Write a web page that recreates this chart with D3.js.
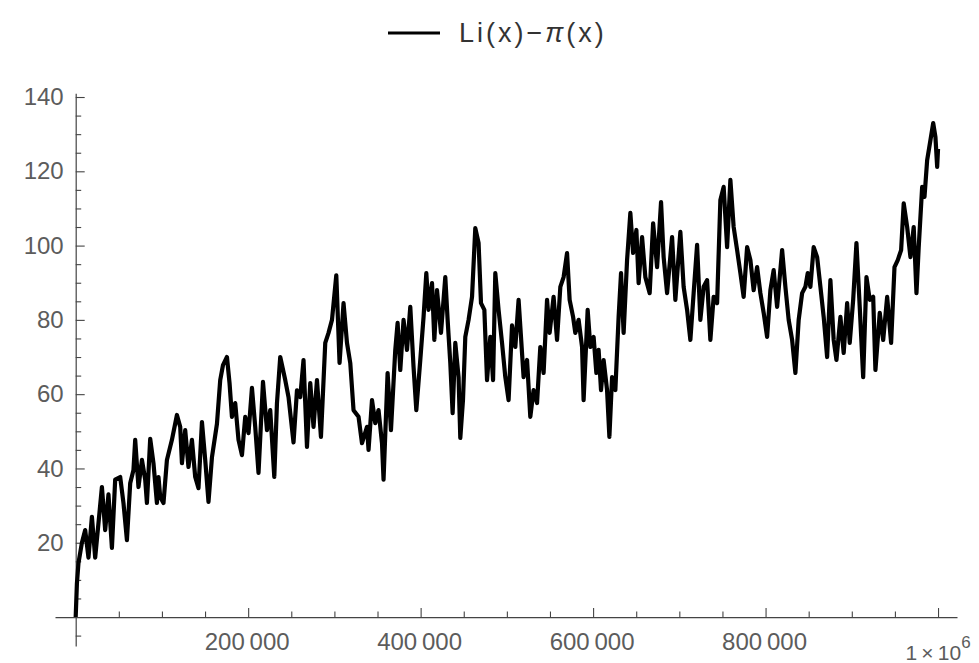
<!DOCTYPE html>
<html>
<head>
<meta charset="utf-8">
<script src="https://cdn.jsdelivr.net/npm/d3@7"></script>
<style>
  html, body { margin: 0; padding: 0; background: #fff; }
  svg { display: block; }
</style>
</head>
<body>
<svg id="chart" width="979" height="663"></svg>
<script>
// Li(x) - pi(x), sampled along x (x given in thousands)
const xK = [
  0, 1.4, 3.2, 7.2, 11.0, 14.8, 18.8, 22.6, 30.4, 34.2, 38.0, 42.0, 45.8, 51.6, 55.4, 59.4,
  63.2, 67.0, 69.0, 72.8, 76.8, 80.6, 82.6, 86.4, 90.2, 94.2, 96.0, 98.0, 101.8, 105.8, 111.6, 117.4,
  121.2, 123.2, 127.0, 130.8, 134.8, 138.6, 142.4, 146.4, 150.2, 154.0, 158.0, 163.8, 167.6, 170.8, 175.4, 178.4,
  181.2, 185.0, 188.8, 192.8, 196.6, 200.4, 204.4, 208.2, 212.0, 217.2, 221.8, 225.6, 230.3, 233.4, 237.2, 243.0,
  246.8, 252.6, 256.6, 260.4, 264.2, 268.2, 272.0, 275.8, 279.8, 284.4, 289.4, 293.2, 297.2, 302.2, 306.0, 310.6,
  314.6, 318.4, 322.2, 328.0, 332.0, 337.8, 339.6, 343.6, 347.4, 351.2, 355.2, 357.0, 361.7, 365.6, 370.6, 373.3,
  376.4, 380.2, 384.2, 388.0, 391.8, 395.0, 399.6, 403.4, 406.6, 409.2, 413.2, 415.9, 419.0, 423.6, 428.6, 431.3,
  434.4, 437.1, 440.2, 444.0, 446.0, 449.1, 451.8, 455.6, 459.6, 463.4, 467.2, 470.0, 473.9, 477.0, 480.8, 484.0,
  486.6, 490.4, 494.4, 498.2, 502.0, 506.0, 509.8, 513.6, 519.4, 523.4, 527.2, 531.0, 535.0, 538.8, 542.6, 546.6,
  549.6, 554.2, 558.2, 562.0, 565.8, 569.8, 572.8, 576.8, 579.4, 583.2, 587.2, 589.0, 593.7, 596.8, 600.6, 603.8,
  606.4, 609.2, 612.2, 616.2, 618.9, 622.0, 625.8, 629.6, 632.4, 635.4, 639.4, 643.2, 646.4, 650.2, 652.8, 656.8,
  660.6, 665.6, 669.6, 674.2, 678.8, 681.8, 685.8, 691.6, 695.4, 701.2, 705.0, 709.0, 712.8, 716.6, 720.6, 724.4,
  728.2, 732.2, 736.0, 739.8, 743.8, 747.6, 751.4, 755.4, 759.2, 763.0, 767.0, 770.8, 774.6, 778.6, 782.4, 786.2,
  790.2, 794.0, 797.8, 801.8, 805.6, 809.4, 813.4, 819.2, 823.0, 826.8, 830.8, 834.6, 838.4, 842.4, 846.2, 848.9,
  852.0, 855.8, 859.8, 863.6, 867.4, 871.4, 875.2, 879.0, 882.2, 886.8, 890.6, 894.6, 897.6, 901.6, 905.4, 909.2,
  913.2, 917.0, 920.8, 924.8, 927.4, 932.4, 936.4, 941.0, 945.6, 949.5, 953.3, 957.2, 960.2, 964.2, 968.0, 971.8,
  975.0, 977.6, 981.6, 984.3, 987.4, 991.2, 994.4, 997.0, 999.0, 1000.0
];
const gap = [
  0, 9, 14.5, 20, 23.4, 16, 27, 16, 35, 23.4, 33, 18.6, 37, 37.7, 30.7, 20.7,
  36, 39.6, 47.7, 35, 42.3, 37, 30.7, 48, 41.4, 30.7, 37.7, 32.3, 30.7, 42.3, 47.7, 54.4,
  51.2, 41.4, 50.3, 40.4, 47.7, 37.7, 34.7, 52.5, 42.3, 31, 43, 52, 63.8, 67.8, 70, 63,
  53.9, 57.6, 47.7, 43.6, 53.9, 49.5, 61.7, 51.2, 38.8, 63.3, 50.3, 55.7, 37.7, 57.6, 70, 63.8,
  59.2, 47, 61, 59.2, 69.2, 45.8, 63, 51.2, 63.8, 48.5, 73.8, 76.5, 80, 92, 68.4, 84.5,
  73.8, 68.4, 55.7, 53.9, 46.8, 51.2, 45, 58.4, 52.2, 55.7, 46.8, 37, 65.7, 50.3, 71.9, 79.2,
  66.5, 80, 71.9, 83.5, 67.3, 55.7, 69.2, 80.8, 92.6, 82.7, 89.9, 74.6, 88, 76.5, 91.5, 80,
  68.4, 54.9, 73.8, 64.6, 48.2, 58.4, 75.4, 80, 86.2, 104.7, 100.7, 84.5, 82.7, 63.8, 75.4, 63.8,
  92.6, 82.7, 73.8, 64.6, 58.4, 78.5, 72.7, 85.4, 64.6, 69.2, 53.9, 61.1, 57.6, 72.7, 65.7, 85.4,
  76.5, 86.2, 74.6, 88.9, 91.5, 98, 85.4, 80.8, 76.5, 80, 72.7, 58.4, 82.7, 72.7, 75.4, 65.7,
  71.9, 61.1, 69.2, 61.1, 48.5, 64.6, 61.1, 80.8, 92.6, 76.5, 96.1, 108.8, 98, 104.2, 89.9, 102.3,
  91.5, 87.2, 106, 94.2, 111.7, 96.9, 87.2, 102.3, 85.4, 103.7, 88.9, 82.7, 74.6, 87.2, 100.2, 80,
  88.9, 90.7, 74.6, 86.2, 84.5, 112.3, 115.8, 99.6, 117.7, 105, 98.8, 92.6, 86.2, 99.6, 96.1, 88,
  94.2, 87.2, 81.9, 75.4, 88, 93.4, 83.5, 98.8, 88.9, 80, 74.6, 65.7, 80, 87.2, 88.9, 92.6,
  88.9, 99.6, 96.9, 88.9, 80.8, 70, 90.7, 74.6, 69.2, 80.8, 71.1, 84.5, 73.8, 85.4, 100.7, 83.5,
  64.6, 91.5, 85.4, 86.2, 66.5, 81.9, 74.6, 86.2, 73.8, 94.2, 96.1, 98.8, 111.4, 105, 96.9, 105,
  87.2, 99.6, 115.8, 113.1, 123, 128.4, 133, 129.2, 121.2, 126
];

const xMajor = [200000, 400000, 600000, 800000, 1000000];
const xMinor = [50000, 100000, 150000, 250000, 300000, 350000, 450000, 500000, 550000,
                650000, 700000, 750000, 850000, 900000, 950000];
const yMajor = [20, 40, 60, 80, 100, 120, 140];
const yMinor = [-5, 5, 10, 15, 25, 30, 35, 45, 50, 55, 65, 70, 75, 85, 90, 95,
                105, 110, 115, 125, 130, 135];
const xLabels = ["200\u2009000", "400\u2009000", "600\u2009000", "800\u2009000"];
const legendLabel = ["Li(x)\u2212", "\u03c0", "(x)"];

const svg = d3.select("#chart");

const x = d3.scaleLinear().domain([-24000, 1022000]).range([55, 957]);
const y = d3.scaleLinear().domain([-7.8, 141]).range([646, 93.3]);

const axisColor = "#444";
const labelColor = "#5c5c5c";
const font = "'Liberation Sans', Arial, sans-serif";

// x axis (ticks point up into the plot)
const gx = svg.append("g").attr("transform", `translate(0,${y(0)})`);
gx.call(d3.axisBottom(x).tickValues(xMinor).tickSizeInner(-5.5).tickSizeOuter(0).tickFormat(""));
gx.append("g").call(d3.axisBottom(x).tickValues(xMajor).tickSizeInner(-9).tickSizeOuter(0).tickFormat(""))
  .select(".domain").remove();
gx.selectAll(".domain").attr("stroke", axisColor).attr("stroke-width", 1.2);
gx.selectAll(".tick line").attr("stroke", axisColor).attr("stroke-width", 1.1);

// x tick labels
const xl = svg.append("g").attr("font-family", font).attr("fill", labelColor);
xl.selectAll("text.xl").data(xMajor.slice(0, 4)).join("text")
  .attr("class", "xl")
  .attr("x", d => x(d) - 1)
  .attr("y", 650)
  .attr("text-anchor", "middle")
  .attr("font-size", 24)
  .text((d, i) => xLabels[i]);
const big = xl.append("text")
  .attr("x", x(1000000))
  .attr("y", 660)
  .attr("text-anchor", "middle")
  .attr("font-size", 21);
big.append("tspan").text("1\u2009\u00d7\u200910");
big.append("tspan").attr("dy", -12).attr("font-size", 17).text("6");

// y axis (ticks point right into the plot)
const gy = svg.append("g").attr("transform", `translate(${x(0)},0)`);
gy.call(d3.axisLeft(y).tickValues(yMinor).tickSizeInner(-5.5).tickSizeOuter(0).tickFormat(""));
gy.append("g").call(d3.axisLeft(y).tickValues(yMajor).tickSizeInner(-9).tickSizeOuter(0).tickPadding(12))
  .select(".domain").remove();
gy.selectAll(".domain").attr("stroke", axisColor).attr("stroke-width", 1.2);
gy.selectAll(".tick line").attr("stroke", axisColor).attr("stroke-width", 1.1);
gy.selectAll(".tick text").attr("font-size", 24).attr("font-family", font).attr("fill", labelColor);

// the curve
const pts = xK.map((v, i) => [v * 1000, gap[i]]);
svg.append("path")
  .datum(pts)
  .attr("fill", "none")
  .attr("stroke", "#000")
  .attr("stroke-width", 4.2)
  .attr("stroke-linejoin", "round")
  .attr("d", d3.line().x(d => x(d[0])).y(d => y(d[1])));

// legend
const lg = svg.append("g");
lg.append("line")
  .attr("x1", 388).attr("x2", 440).attr("y1", 33).attr("y2", 33)
  .attr("stroke", "#000").attr("stroke-width", 3);
const lt = lg.append("text")
  .attr("x", 459).attr("y", 42)
  .attr("font-family", font)
  .attr("font-size", 27)
  .attr("letter-spacing", 3)
  .attr("fill", "#333");
lt.append("tspan").text(legendLabel[0]);
lt.append("tspan").attr("font-style", "italic").text(legendLabel[1]);
lt.append("tspan").text(legendLabel[2]);
</script>
</body>
</html>
